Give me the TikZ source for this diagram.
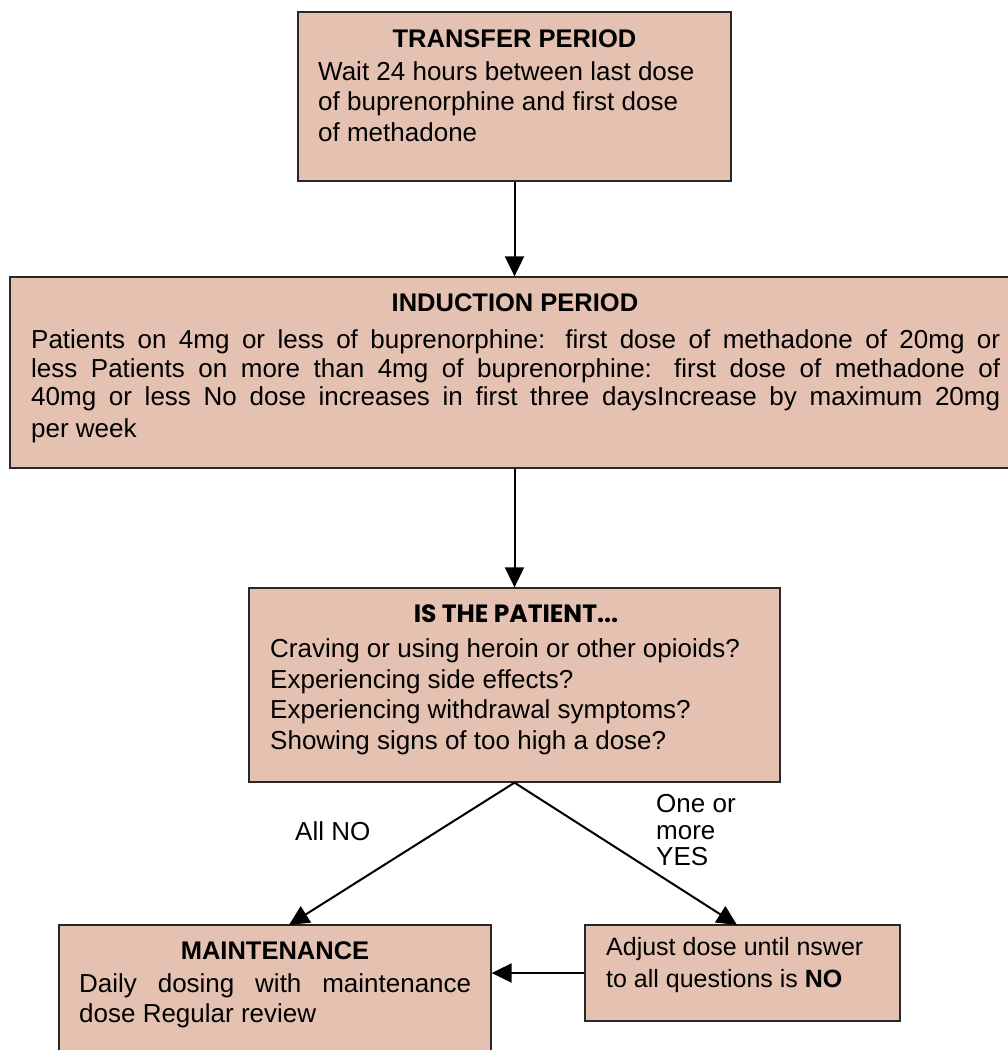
\documentclass[tikz,border=0pt]{standalone}
\usepackage{fontspec}
\setmainfont{Liberation Sans}
\newfontfamily\gothic{Poppins}
\usetikzlibrary{arrows.meta}
\definecolor{boxfill}{RGB}{228,193,177}
\definecolor{boxline}{RGB}{40,40,40}
\begin{document}
\begin{tikzpicture}[x=1pt,y=-1pt,
  box/.style={draw=boxline,line width=1.3pt,fill=boxfill,rectangle,inner sep=0pt},
  txt/.style={inner sep=0pt,anchor=base west,font=\fontsize{26}{30}\selectfont},
  stxt/.style={inner sep=0pt,anchor=base west,font=\fontsize{25}{30}\selectfont},
  ttl/.style={inner sep=0pt,anchor=base,font=\bfseries\fontsize{25.5}{30}\selectfont},
  arr/.style={draw=black,line width=2pt,-{Triangle[length=20pt,width=19pt]}}]
\useasboundingbox (0,0) rectangle (1008,1050);
% boxes
\node[box,minimum width=433pt,minimum height=169pt] (transfer) at (514.5,96.5) {};
\node[box,minimum width=1002pt,minimum height=191pt] (induction) at (511,372.5) {};
\node[box,minimum width=531pt,minimum height=194pt] (patient) at (514.5,685) {};
\node[box,minimum width=432pt,minimum height=132pt] (maint) at (275,991) {};
\node[box,minimum width=315pt,minimum height=96pt] (adjust) at (742.5,973) {};
% transfer text
\node[ttl] (t0) at (514.5,47) {TRANSFER PERIOD};
\node[txt] (t1) at (318,80) {Wait 24 hours between last dose};
\node[txt] (t2) at (318,110) {of buprenorphine and first dose};
\node[txt] (t3) at (318,141) {of methadone};
% induction text
\node[ttl] (i0) at (515,311) {INDUCTION PERIOD};
\node[txt] (i1) at (31,348) {\makebox[969pt][s]{Patients on 4mg or less of buprenorphine: first dose of methadone of 20mg or}};
\node[txt] (i2) at (31,377) {\makebox[969pt][s]{less Patients on more than 4mg of buprenorphine: first dose of methadone of}};
\node[txt] (i3) at (31,405) {\makebox[969pt][s]{40mg or less No dose increases in first three daysIncrease by maximum 20mg}};
\node[txt] (i4) at (31,437) {per week};
% patient text
\node[inner sep=0pt,anchor=base,font=\gothic\bfseries\fontsize{25}{30}\selectfont] (p0) at (516,622) {IS THE PATIENT...};
\node[txt] (p1) at (270,657) {Craving or using heroin or other opioids?};
\node[txt] (p2) at (270,688) {Experiencing side effects?};
\node[txt] (p3) at (270,718) {Experiencing withdrawal symptoms?};
\node[txt] (p4) at (270,749) {Showing signs of too high a dose?};
% maintenance text
\node[ttl] (m0) at (275,959) {MAINTENANCE};
\node[txt] (m1) at (79,992) {\makebox[392pt][s]{Daily dosing with maintenance}};
\node[txt] (m2) at (79,1022) {dose Regular review};
% adjust text
\node[stxt] (a1) at (606,955) {Adjust dose until nswer};
\node[stxt] (a2) at (606,987) {to all questions is \textbf{NO}};
% labels
\node[txt] (lno) at (295,840) {All NO};
\node[txt] (ly1) at (656,812) {One or};
\node[txt] (ly2) at (656,839) {more};
\node[txt] (ly3) at (656,865) {YES};
% connectors
\coordinate (mtop) at (289,925);
\coordinate (atop) at (737,925);
\draw[arr] (transfer.south) -- (transfer.south |- induction.north);
\draw[arr] (transfer.south |- induction.south) -- (transfer.south |- patient.north);
\draw[arr] (patient.south) -- (mtop);
\draw[arr] (patient.south) -- (atop);
\draw[arr] (adjust.west) -- (adjust.west -| maint.east);
\end{tikzpicture}
\end{document}
